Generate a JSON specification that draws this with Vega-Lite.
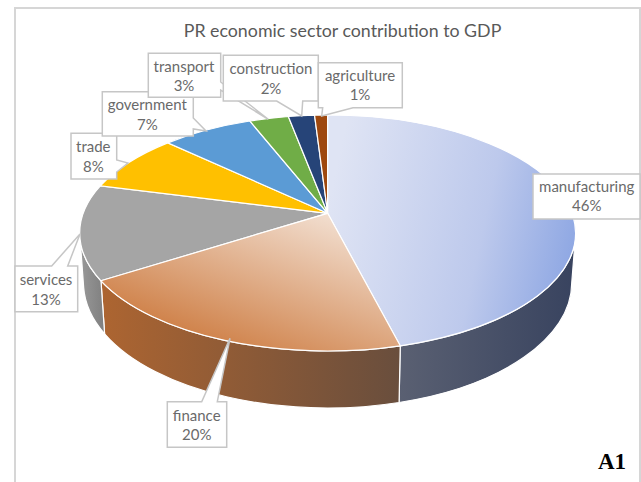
{
  "$schema": "https://vega.github.io/schema/vega-lite/v6.json",
  "width": 625,
  "height": 476,
  "padding": {"left": 15, "top": 8, "right": 1, "bottom": -2},
  "autosize": "none",
  "background": "white",
  "config": {"view": {"stroke": "#d6d6d6", "strokeWidth": 2}},
  "title": {
    "text": "PR economic sector contribution to GDP",
    "font": "Lato",
    "fontSize": 17.8,
    "fontWeight": "normal",
    "color": "#595959",
    "anchor": "middle",
    "dx": 15,
    "offset": -33
  },
  "data": {
    "values": [
      {"sector": "manufacturing", "share": 46},
      {"sector": "finance", "share": 20},
      {"sector": "services", "share": 13},
      {"sector": "trade", "share": 8},
      {"sector": "government", "share": 7},
      {"sector": "transport", "share": 3},
      {"sector": "construction", "share": 2},
      {"sector": "agriculture", "share": 1}
    ]
  },
  "transform": [
    {"window": [{"op": "sum", "field": "share", "as": "cum"}]},
    {"calculate": "(datum.cum - datum.share) * PI / 50", "as": "a0"},
    {"calculate": "datum.cum * PI / 50", "as": "a1"},
    {"calculate": "0.2 + 244.5 * sin(datum.a0) / (1 + 0.167 * cos(datum.a0))", "as": "x0"},
    {"calculate": "-31.7 - 114.7 * cos(datum.a0) / (1 + 0.167 * cos(datum.a0))", "as": "y0"},
    {"calculate": "0.2 + 244.5 * sin(datum.a1) / (1 + 0.167 * cos(datum.a1))", "as": "x1"},
    {"calculate": "-31.7 - 114.7 * cos(datum.a1) / (1 + 0.167 * cos(datum.a1))", "as": "y1"},
    {"calculate": "'M0.2,-31.7L' + datum.x0 + ',' + datum.y0 + 'A248,118,0,0,1,' + datum.x1 + ',' + datum.y1 + 'Z'", "as": "topFace"},
    {"calculate": "datum.a0 < 1.738 ? 248.2 : datum.x0", "as": "sx"},
    {"calculate": "datum.a0 < 1.738 ? -12 : datum.y0", "as": "sy"},
    {"calculate": "datum.a1 > 4.545 ? -247.8 : datum.x1", "as": "ex"},
    {"calculate": "datum.a1 > 4.545 ? -12 : datum.y1", "as": "ey"},
    {"calculate": "datum.sx * 0.984", "as": "sbx"},
    {"calculate": "38 + 125 * sqrt(max(0, 1 - pow(datum.sbx / 244, 2)))", "as": "sby"},
    {"calculate": "datum.ex * 0.984", "as": "ebx"},
    {"calculate": "38 + 125 * sqrt(max(0, 1 - pow(datum.ebx / 244, 2)))", "as": "eby"},
    {"calculate": "'M' + datum.sx + ',' + datum.sy + 'A248,118,0,0,1,' + datum.ex + ',' + datum.ey + 'L' + datum.ebx + ',' + datum.eby + 'A244,125,0,0,0,' + datum.sbx + ',' + datum.sby + 'Z'", "as": "wall"},
    {"calculate": "{manufacturing:571.7,finance:181.7,services:31,trade:78.3,government:132.3,transport:169,construction:256,agriculture:345}[datum.sector]", "as": "labelX"},
    {"calculate": "{manufacturing:178.5,finance:407.7,services:272,trade:139.3,government:97,transport:58.7,construction:61.3,agriculture:67.7}[datum.sector]", "as": "labelY"},
    {"calculate": "[datum.sector, datum.share + '%']", "as": "label"}
  ],
  "layer": [
    {
      "transform": [{"filter": "datum.sector === 'manufacturing'"}],
      "mark": {"type": "point", "filled": true, "opacity": 1, "size": 4, "yOffset": -1, "stroke": "white", "strokeWidth": 1.2,
        "fill": {"gradient": "linear", "x1": 0, "y1": 0, "x2": 1, "y2": 0, "stops": [{"offset": 0, "color": "#5a6072"}, {"offset": 1, "color": "#38435f"}]}},
      "encoding": {"shape": {"field": "wall", "type": "nominal", "scale": null, "legend": null}}
    },
    {
      "transform": [{"filter": "datum.sector === 'finance'"}],
      "mark": {"type": "point", "filled": true, "opacity": 1, "size": 4, "yOffset": -1, "stroke": "white", "strokeWidth": 1.2,
        "fill": {"gradient": "linear", "x1": 0, "y1": 0, "x2": 1, "y2": 0, "stops": [{"offset": 0, "color": "#ad6531"}, {"offset": 1, "color": "#694e3d"}]}},
      "encoding": {"shape": {"field": "wall", "type": "nominal", "scale": null, "legend": null}}
    },
    {
      "transform": [{"filter": "datum.sector === 'services'"}],
      "mark": {"type": "point", "filled": true, "opacity": 1, "size": 4, "yOffset": -1, "stroke": "white", "strokeWidth": 1.2,
        "fill": {"gradient": "linear", "x1": 0, "y1": 0, "x2": 1, "y2": 0, "stops": [{"offset": 0, "color": "#999999"}, {"offset": 1, "color": "#7f7f7f"}]}},
      "encoding": {"shape": {"field": "wall", "type": "nominal", "scale": null, "legend": null}}
    },
    {
      "transform": [{"filter": "datum.sector !== 'manufacturing' && datum.sector !== 'finance'"}],
      "mark": {"type": "point", "filled": true, "opacity": 1, "size": 4, "yOffset": -1, "stroke": "white", "strokeWidth": 1.2},
      "encoding": {
        "shape": {"field": "topFace", "type": "nominal", "scale": null, "legend": null},
        "fill": {
          "field": "sector",
          "type": "nominal",
          "legend": null,
          "scale": {
            "domain": ["services", "trade", "government", "transport", "construction", "agriculture"],
            "range": ["#a5a5a5", "#ffc000", "#5b9bd5", "#70ad47", "#264478", "#9e480e"]
          }
        }
      }
    },
    {
      "transform": [{"filter": "datum.sector === 'manufacturing'"}],
      "mark": {"type": "point", "filled": true, "opacity": 1, "size": 4, "yOffset": -1, "stroke": "white", "strokeWidth": 1.2,
        "fill": {"gradient": "linear", "x1": 0, "y1": 0.4, "x2": 1, "y2": 0.6, "stops": [{"offset": 0, "color": "#dfe4f4"}, {"offset": 0.62, "color": "#bdc9ec"}, {"offset": 1, "color": "#8ea7e3"}]}},
      "encoding": {"shape": {"field": "topFace", "type": "nominal", "scale": null, "legend": null}}
    },
    {
      "transform": [{"filter": "datum.sector === 'finance'"}],
      "mark": {"type": "point", "filled": true, "opacity": 1, "size": 4, "yOffset": -1, "stroke": "white", "strokeWidth": 1.2,
        "fill": {"gradient": "linear", "x1": 0.15, "y1": 0.85, "x2": 0.85, "y2": 0, "stops": [{"offset": 0, "color": "#cd7b40"}, {"offset": 1, "color": "#f4e4d8"}]}},
      "encoding": {"shape": {"field": "topFace", "type": "nominal", "scale": null, "legend": null}}
    },
    {
      "mark": {"type": "point", "filled": true, "opacity": 1, "size": 4, "yOffset": -1, "fill": "white", "stroke": "#c6c6c6", "strokeWidth": 1.5},
      "encoding": {
        "shape": {
          "field": "sector",
          "type": "nominal",
          "legend": null,
          "scale": {
            "domain": ["manufacturing", "finance", "services", "trade", "government", "transport", "construction", "agriculture"],
            "range": [
              "M205.5,-71H312.5V-26H205.5Z",
              "M-160.2,156.7L-125.8,156.7L-97.5,93.3L-110.2,156.7L-100.8,156.7L-100.8,202.3L-160.2,202.3Z",
              "M-312.5,21L-275.8,21L-247.5,-11L-259.8,21L-249.8,21L-249.8,66.7L-312.5,66.7Z",
              "M-256.5,-111.7H-210.8V-85L-199.5,-82L-210.8,-73V-66H-256.5Z",
              "M-225.2,-153.3H-134.2V-127L-121.5,-114L-134.2,-116V-109H-225.2Z",
              "M-179.2,-191.7H-106.8V-163L-59.2,-125.7L-106.8,-155V-147.7H-179.2Z",
              "M-104.2,-189.7H-9.2V-144H-24.8L-25.8,-129L-50.8,-144H-104.2Z",
              "M-9.2,-182.3H74.8V-137.3H25.5L-5.8,-129L-4.8,-137.3H-9.2Z"
            ]
          }
        }
      }
    },
    {
      "mark": {"type": "text", "font": "Lato", "fontSize": 15, "color": "#6a6a6a", "lineHeight": 19.6, "align": "center", "baseline": "middle"},
      "encoding": {
        "x": {"field": "labelX", "type": "quantitative", "scale": null},
        "y": {"field": "labelY", "type": "quantitative", "scale": null},
        "text": {"field": "label"}
      }
    },
    {
      "data": {"values": [{"panel": "A1"}]},
      "mark": {"type": "text", "font": "Liberation Serif", "fontWeight": "bold", "fontSize": 23, "color": "black", "align": "center", "baseline": "middle", "x": {"expr": "width - 28"}, "y": {"expr": "height - 22.5"}},
      "encoding": {"text": {"field": "panel"}}
    }
  ]
}
